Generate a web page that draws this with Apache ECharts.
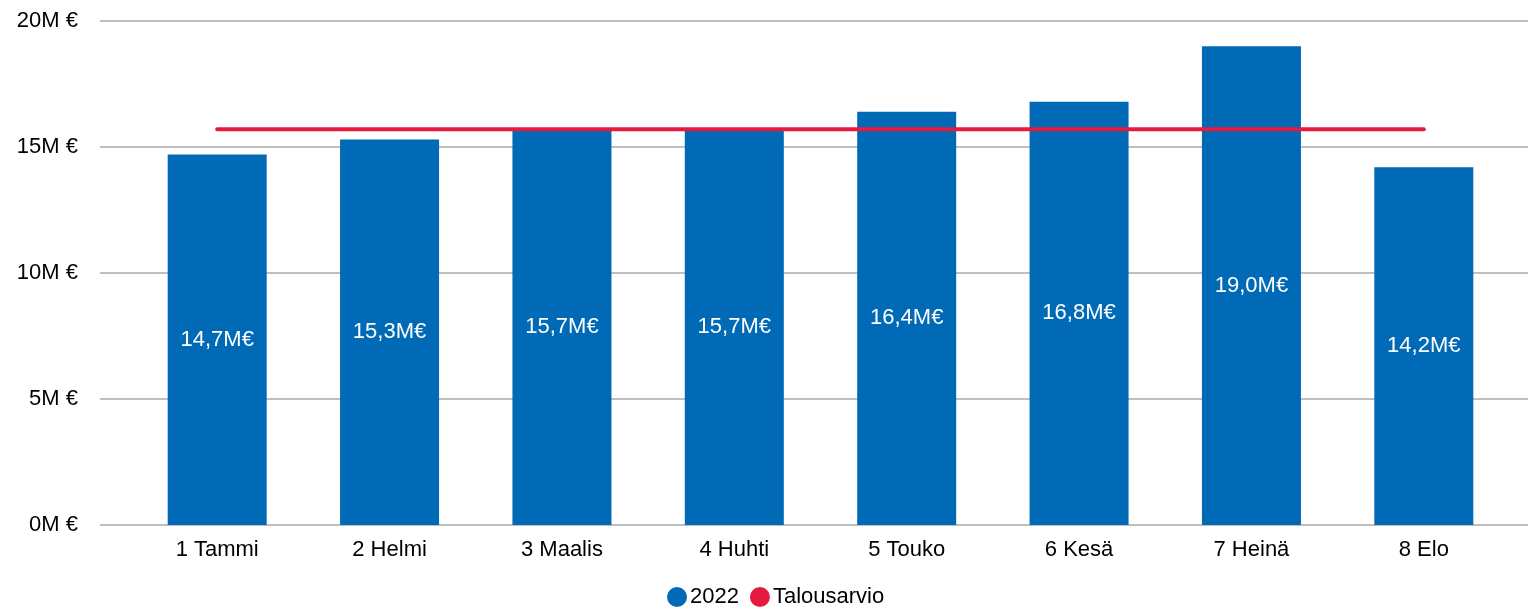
<!DOCTYPE html>
<html>
<head>
<meta charset="utf-8">
<script src="https://cdn.jsdelivr.net/npm/echarts@6/dist/echarts.min.js"></script>
<style>
html, body { margin: 0; padding: 0; background: #fff; }
#main { width: 1528px; height: 610px; }
</style>
</head>
<body>
<div id="main"></div>
<script>
var kuukaudet = ['1 Tammi', '2 Helmi', '3 Maalis', '4 Huhti', '5 Touko', '6 Kesä', '7 Heinä', '8 Elo']
var myynti2022 = [14.7, 15.3, 15.7, 15.7, 16.4, 16.8, 19.0, 14.2]
var talousarvio = [15.7, 15.7, 15.7, 15.7, 15.7, 15.7, 15.7, 15.7]

var fontti = '"Liberation Sans", Arial, sans-serif'
var mychart = echarts.init(document.getElementById('main'))
mychart.setOption({
    animation: false,
    textStyle: { fontFamily: fontti },
    legend: {
        top: 586,
        left: 667,
        padding: 0,
        icon: 'circle',
        itemWidth: 20,
        itemHeight: 20,
        itemGap: 11,
        textStyle: { fontSize: 22, color: '#000', fontFamily: fontti, padding: [0, 0, 0, -2] },
        data: ['2022', 'Talousarvio']
    },
    grid: [
        { left: 100, right: 0, top: 21, bottom: 85 },
        { left: 131, right: 18, top: 21, bottom: 85 }
    ],
    xAxis: [{
        type: 'category',
        gridIndex: 0,
        data: kuukaudet,
        show: false
    }, {
        type: 'category',
        gridIndex: 1,
        data: kuukaudet,
        axisLine: { show: false },
        axisTick: { show: false },
        axisLabel: { fontSize: 22, color: '#000', margin: 14, fontFamily: fontti }
    }],
    yAxis: [{
        type: 'value',
        gridIndex: 0,
        min: 0,
        max: 20,
        interval: 5,
        axisLine: { show: false },
        axisTick: { show: false },
        axisLabel: {
            fontSize: 22, color: '#000', margin: 22, fontFamily: fontti,
            formatter: '{value}M €'
        },
        splitLine: { lineStyle: { color: '#bfbfbf', width: 2 } }
    }, {
        type: 'value',
        gridIndex: 1,
        min: 0,
        max: 20,
        interval: 5,
        show: false,
        splitLine: { show: false }
    }],
    series: [{
        name: '2022',
        type: 'bar',
        xAxisIndex: 1,
        yAxisIndex: 1,
        barWidth: 99,
        itemStyle: { color: '#006ab6' },
        label: {
            show: true,
            position: 'inside',
            color: '#fff',
            fontSize: 22,
            fontFamily: fontti,
            formatter: function (p) {
                return p.value.toFixed(1).replace('.', ',') + 'M€'
            }
        },
        data: myynti2022
    }, {
        name: 'Talousarvio',
        type: 'line',
        xAxisIndex: 1,
        yAxisIndex: 1,
        symbol: 'none',
        itemStyle: { color: '#e8193f' },
        lineStyle: { color: '#e8193f', width: 4, cap: 'round' },
        data: talousarvio
    }]
})
</script>
</body>
</html>
